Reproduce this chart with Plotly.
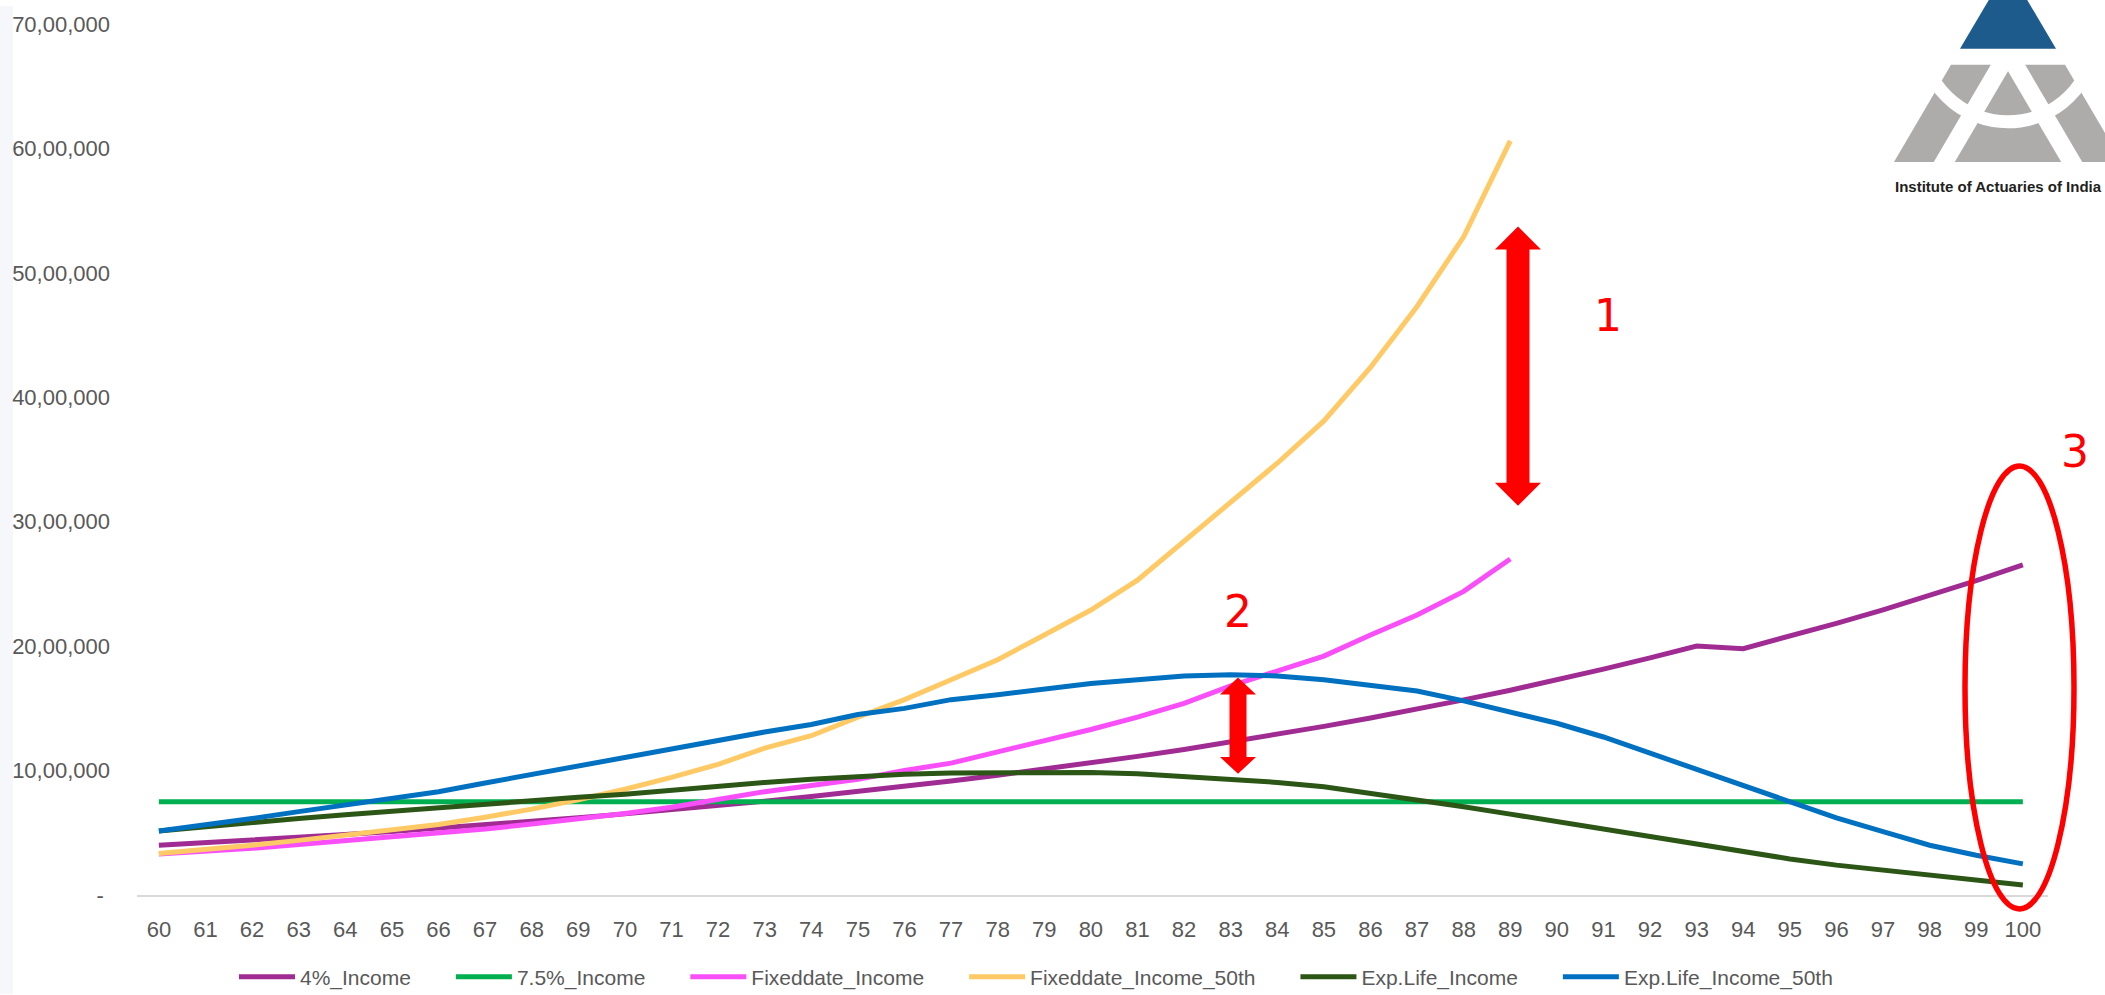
import plotly.graph_objects as go

# ---------------------------------------------------------------- data (in lakh rupees)
LAKH = 100_000
ages = list(range(60, 101))

income_4pct = [4.00, 4.20, 4.41, 4.63, 4.86, 5.11, 5.36, 5.63, 5.91, 6.21,
               6.52, 6.84, 7.18, 7.54, 7.92, 8.32, 8.73, 9.17, 9.63, 10.11,
               10.61, 11.14, 11.70, 12.29, 12.90, 13.55, 14.22, 14.93, 15.68, 16.46,
               17.29, 18.15, 19.06, 20.01, 19.80, 20.79, 21.83, 22.92, 24.07, 25.27,
               26.53]

income_75pct = [7.5, 7.5, 7.5, 7.5, 7.5, 7.5, 7.5, 7.5, 7.5, 7.5,
                7.5, 7.5, 7.5, 7.5, 7.5, 7.5, 7.5, 7.5, 7.5, 7.5,
                7.5, 7.5, 7.5, 7.5, 7.5, 7.5, 7.5, 7.5, 7.5, 7.5,
                7.5, 7.5, 7.5, 7.5, 7.5, 7.5, 7.5, 7.5, 7.5, 7.5,
                7.5]

fixeddate_income = [3.30, 3.50, 3.75, 4.05, 4.35, 4.65, 4.95, 5.30, 5.70, 6.10,
                    6.55, 7.05, 7.70, 8.30, 8.80, 9.30, 10.00, 10.60, 11.50, 12.35,
                    13.30, 14.30, 15.40, 16.80, 18.00, 19.20, 20.90, 22.50, 24.40, 27.00]

fixeddate_income_50th = [3.33, 3.64, 4.00, 4.39, 4.79, 5.19, 5.67, 6.25, 6.90, 7.66,
                         8.50, 9.45, 10.50, 11.80, 12.80, 14.30, 15.70, 17.30, 18.90, 20.90,
                         22.90, 25.30, 28.40, 31.60, 34.70, 38.10, 42.40, 47.30, 52.90, 60.60]

exp_life_income = [5.15, 5.50, 5.85, 6.15, 6.45, 6.75, 7.00, 7.30, 7.60, 7.85,
                   8.10, 8.45, 8.75, 9.05, 9.30, 9.55, 9.70, 9.80, 9.85, 9.90,
                   9.85, 9.75, 9.55, 9.35, 9.05, 8.70, 8.20, 7.65, 7.10, 6.50,
                   5.90, 5.30, 4.65, 4.05, 3.45, 2.90, 2.40, 2.00, 1.55, 1.15,
                   0.80]

exp_life_income_50th = [5.15, 5.60, 6.15, 6.70, 7.20, 7.70, 8.30, 9.00, 9.70, 10.40,
                        11.05, 11.75, 12.40, 13.10, 13.70, 14.50, 15.00, 15.70, 16.10, 16.60,
                        17.00, 17.30, 17.60, 17.70, 17.60, 17.30, 16.90, 16.40, 15.60, 14.70,
                        13.80, 12.70, 11.40, 10.20, 8.90, 7.50, 6.20, 5.10, 4.00, 3.20,
                        2.50]

series_names = ["4%_Income", "7.5%_Income", "Fixeddate_Income",
                "Fixeddate_Income_50th", "Exp.Life_Income", "Exp.Life_Income_50th"]
series_values = [income_4pct, income_75pct, fixeddate_income,
                 fixeddate_income_50th, exp_life_income, exp_life_income_50th]
series_colors = ["#A02B93", "#00B050", "#F94FF9", "#FFC965", "#2B5616", "#0070C0"]

y_tick_values = [0, 10, 20, 30, 40, 50, 60, 70]
y_tick_labels = ["-\u00a0", "10,00,000", "20,00,000", "30,00,000",
                 "40,00,000", "50,00,000", "60,00,000", "70,00,000"]

# ---------------------------------------------------------------- geometry
W, H = 2105, 995
PLOT_L, PLOT_R, PLOT_T, PLOT_B = 137, 2048, 18, 895
X_RANGE = [59.53, 100.54]
FONT = "Liberation Sans, Arial, sans-serif"
GREY_TEXT = "#595959"
RED = "#FF0000"
LEGEND_PAD = "\u00a0" * 6   # extra room between legend entries


def px(x):
    """pixel column -> paper x"""
    return (x - PLOT_L) / (PLOT_R - PLOT_L)


def py(y):
    """pixel row -> paper y"""
    return (PLOT_B - y) / (PLOT_B - PLOT_T)


def poly(points):
    return "M" + " L".join(f"{px(a):.5f},{py(b):.5f}" for a, b in points) + " Z"


def double_arrow(cx, y_top, y_bot, shaft, head, head_len):
    pts = [(cx, y_top), (cx + head, y_top + head_len), (cx + shaft, y_top + head_len),
           (cx + shaft, y_bot - head_len), (cx + head, y_bot - head_len), (cx, y_bot),
           (cx - head, y_bot - head_len), (cx - shaft, y_bot - head_len),
           (cx - shaft, y_top + head_len), (cx - head, y_top + head_len)]
    return poly(pts)


fig = go.Figure()

last = len(series_names) - 1
for i, (name, vals, color) in enumerate(zip(series_names, series_values, series_colors)):
    fig.add_trace(go.Scatter(
        x=ages[:len(vals)], y=[v * LAKH for v in vals],
        name=name + (LEGEND_PAD if i < last else ""), mode="lines",
        line=dict(color=color, width=5),
    ))

shapes = []

# faint strip at the left edge
shapes.append(dict(type="rect", xref="paper", yref="paper", x0=px(0), x1=px(13),
                   y0=py(H), y1=py(0), fillcolor="#F6F7FB", line_width=0, layer="below"))

# double arrows
shapes.append(dict(type="path", xref="paper", yref="paper",
                   path=double_arrow(1518, 222, 503, 11.5, 23, 23),
                   fillcolor=RED, line=dict(width=0)))
shapes.append(dict(type="path", xref="paper", yref="paper",
                   path=double_arrow(1238, 676, 773, 8.5, 18, 17),
                   fillcolor=RED, line=dict(width=0)))

# ellipse around the age-100 values
shapes.append(dict(type="circle", xref="paper", yref="paper",
                   x0=px(1965), x1=px(2074), y0=py(909), y1=py(463),
                   line=dict(color=RED, width=5.5)))

# logo: blue apex, grey body, white strips and ring
LOGO_BLUE, LOGO_GREY = "#1D5B8C", "#AEABAB"
shapes.append(dict(type="path", xref="paper", yref="paper",
                   path=poly([(1960, 43), (2008, -39), (2056, 43)]),
                   fillcolor=LOGO_BLUE, line=dict(width=0)))
shapes.append(dict(type="path", xref="paper", yref="paper",
                   path=poly([(1951, 59), (2065, 59), (2122, 157), (1894, 157)]),
                   fillcolor=LOGO_GREY, line=dict(width=0)))
shapes.append(dict(type="path", xref="paper", yref="paper",
                   path=poly([(1932, 160), (1953, 160), (2020, 45), (1999, 45)]),
                   fillcolor="white", line=dict(width=0)))
shapes.append(dict(type="path", xref="paper", yref="paper",
                   path=poly([(2084, 160), (2063, 160), (1996, 45), (2017, 45)]),
                   fillcolor="white", line=dict(width=0)))
shapes.append(dict(type="circle", xref="paper", yref="paper",
                   x0=px(2008 - 86.5), x1=px(2008 + 86.5), y0=py(30 + 86.5), y1=py(30 - 86.5),
                   line=dict(color="white", width=13)))

annotations = [
    dict(text="1", x=px(1608), y=py(312), xref="paper", yref="paper", showarrow=False,
         font=dict(family="DejaVu Sans", size=44, color=RED), xanchor="center", yanchor="middle"),
    dict(text="2", x=px(1238), y=py(610), xref="paper", yref="paper", showarrow=False,
         font=dict(family="DejaVu Sans", size=44, color=RED), xanchor="center", yanchor="middle"),
    dict(text="3", x=px(2075), y=py(448), xref="paper", yref="paper", showarrow=False,
         font=dict(family="DejaVu Sans", size=44, color=RED), xanchor="center", yanchor="middle"),
    dict(text="<b>Institute of Actuaries of India</b>", x=px(1893), y=py(182),
         xref="paper", yref="paper", showarrow=False, xanchor="left", yanchor="middle",
         font=dict(family=FONT, size=15, color="#231F20")),
]

fig.update_layout(
    width=W, height=H, autosize=False,
    margin=dict(l=PLOT_L, r=W - PLOT_R, t=PLOT_T, b=H - PLOT_B, pad=0),
    paper_bgcolor="white", plot_bgcolor="white",
    font=dict(family=FONT, size=22, color=GREY_TEXT),
    showlegend=True,
    legend=dict(orientation="h", x=px(1036), xanchor="center",
                yref="container", y=(H - 977) / H, yanchor="middle",
                font=dict(family=FONT, size=21, color=GREY_TEXT), itemwidth=56,
                bgcolor="rgba(0,0,0,0)"),
    shapes=shapes,
    annotations=annotations,
)

fig.update_xaxes(
    range=X_RANGE, tickmode="array", tickvals=ages, ticktext=[str(a) for a in ages],
    showgrid=False, zeroline=False, showline=True, linecolor="#D9D9D9", linewidth=2,
    ticks="", ticklabelstandoff=14, tickfont=dict(family=FONT, size=22, color=GREY_TEXT),
    fixedrange=True,
)
fig.update_yaxes(
    range=[0, 70 * LAKH], tickmode="array", tickvals=[v * LAKH for v in y_tick_values],
    ticktext=y_tick_labels, showgrid=False, zeroline=False, showline=False,
    ticks="", ticklabelstandoff=26, tickfont=dict(family=FONT, size=22, color=GREY_TEXT),
    fixedrange=True,
)

fig.write_html("out.html")
